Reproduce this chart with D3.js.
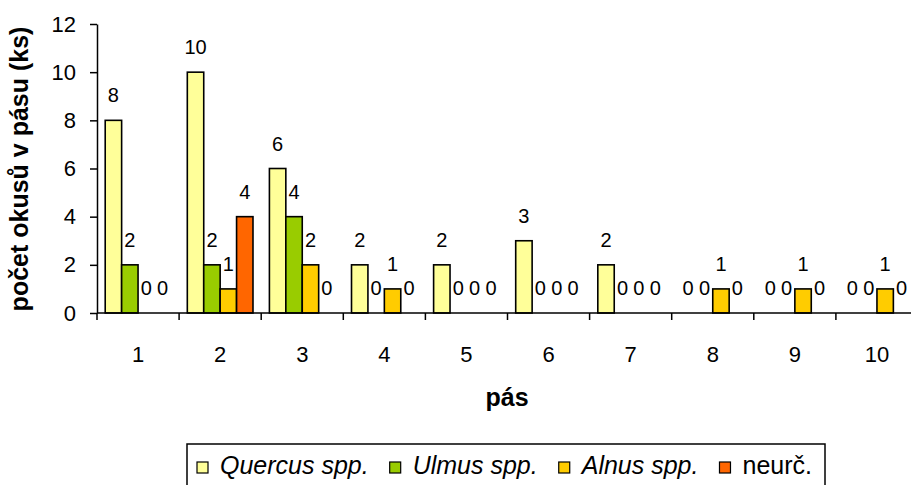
<!DOCTYPE html>
<html>
<head>
<meta charset="utf-8">
<script src="https://cdn.jsdelivr.net/npm/d3@7"></script>
<style>
  html, body { margin: 0; padding: 0; background: #fff; }
  svg { display: block; font-family: "Liberation Sans", Arial, sans-serif; }
</style>
</head>
<body>
<svg id="chart" width="911" height="485"></svg>
<script>
// Belts (pás) along the x axis
const belts = ["1", "2", "3", "4", "5", "6", "7", "8", "9", "10"];

// Browsing counts per belt for each group
const quercus = [8, 10, 6, 2, 2, 3, 2, 0, 0, 0];
const ulmus   = [2, 2, 4, 0, 0, 0, 0, 0, 0, 0];
const alnus   = [0, 1, 2, 1, 0, 0, 0, 1, 1, 1];
const neurc   = [0, 4, 0, 0, 0, 0, 0, 0, 0, 0];

const seriesNames  = ["Quercus spp.", "Ulmus spp.", "Alnus spp.", "neurč."];
const seriesItalic = [true, true, true, false];
const seriesColors = ["#FFFF99", "#99CC00", "#FFCC00", "#FF6600"];
const seriesValues = [quercus, ulmus, alnus, neurc];

const yTicks = [0, 2, 4, 6, 8, 10, 12];

const svg = d3.select("#chart");

const plot = { left: 97, right: 918, top: 24, bottom: 313 };

const x = d3.scaleBand().domain(belts).range([plot.left, plot.right]).padding(0);
const xInner = d3.scaleBand()
  .domain(d3.range(seriesNames.length))
  .range([x.bandwidth() * 0.1, x.bandwidth() * 0.9])
  .padding(0);
const y = d3.scaleLinear().domain([0, 12]).range([plot.bottom, plot.top]);

// Bars (zero values draw no bar)
seriesValues.forEach((vals, si) => {
  svg.append("g")
    .selectAll("rect")
    .data(vals.map((v, bi) => ({ v, belt: belts[bi] })).filter(d => d.v > 0))
    .join("rect")
    .attr("x", d => x(d.belt) + xInner(si))
    .attr("y", d => y(d.v))
    .attr("width", xInner.bandwidth())
    .attr("height", d => y(0) - y(d.v))
    .attr("fill", seriesColors[si])
    .attr("stroke", "#000")
    .attr("stroke-width", 1.6);
});

// Value labels above each bar
const labels = svg.append("g")
  .attr("font-size", 20)
  .attr("text-anchor", "middle")
  .attr("fill", "#000");

seriesValues.forEach((vals, si) => {
  labels.selectAll(null)
    .data(vals.map((v, bi) => ({ v, belt: belts[bi] })))
    .join("text")
    .attr("x", d => x(d.belt) + xInner(si) + xInner.bandwidth() / 2)
    .attr("y", d => y(d.v) - 18)
    .text(d => d.v);
});

// Y axis
const yAxis = svg.append("g")
  .attr("transform", `translate(${plot.left},0)`)
  .call(d3.axisLeft(y).tickValues(yTicks).tickSize(7).tickSizeOuter(0).tickPadding(14));
yAxis.select(".domain").attr("stroke", "#000").attr("stroke-width", 1.5);
yAxis.selectAll(".tick line").attr("stroke", "#000").attr("stroke-width", 1.5);
yAxis.selectAll(".tick text").attr("font-size", 22).attr("fill", "#000")
  .attr("font-family", "'Liberation Sans', Arial, sans-serif");

// X axis: baseline with ticks at band boundaries
const xAxisG = svg.append("g");
xAxisG.append("line")
  .attr("x1", plot.left).attr("x2", plot.right)
  .attr("y1", y(0)).attr("y2", y(0))
  .attr("stroke", "#000").attr("stroke-width", 1.5);
xAxisG.selectAll("line.tk")
  .data(belts)
  .join("line")
  .attr("class", "tk")
  .attr("x1", d => x(d)).attr("x2", d => x(d))
  .attr("y1", y(0)).attr("y2", y(0) + 7)
  .attr("stroke", "#000").attr("stroke-width", 1.5);
xAxisG.selectAll("text")
  .data(belts)
  .join("text")
  .attr("x", d => x(d) + x.bandwidth() / 2)
  .attr("y", 362)
  .attr("text-anchor", "middle")
  .attr("font-size", 22)
  .text(d => d);

// Axis titles
svg.append("text")
  .attr("x", 507).attr("y", 406)
  .attr("text-anchor", "middle")
  .attr("font-size", 25).attr("font-weight", "bold")
  .text("pás");

svg.append("text")
  .attr("transform", "translate(28,169) rotate(-90)")
  .attr("text-anchor", "middle")
  .attr("font-size", 25).attr("font-weight", "bold")
  .text("počet okusů v pásu (ks)");

// Legend
const legend = svg.append("g");
legend.append("rect")
  .attr("x", 187).attr("y", 444).attr("width", 638).attr("height", 60)
  .attr("fill", "#fff").attr("stroke", "#000").attr("stroke-width", 1.5);

const items = legend.selectAll("g.item")
  .data(seriesNames.map((n, i) => ({ n, i })))
  .join("g").attr("class", "item");
items.append("rect")
  .attr("y", -12)
  .attr("width", 11).attr("height", 11)
  .attr("fill", d => seriesColors[d.i])
  .attr("stroke", "#000").attr("stroke-width", 1.2);
items.append("text")
  .attr("x", 23).attr("y", 0)
  .attr("font-size", 25)
  .attr("font-style", d => seriesItalic[d.i] ? "italic" : "normal")
  .text(d => d.n);

// Lay the legend entries out in a row
const widths = [];
items.each(function () { widths.push(this.getBBox().width); });
const gap = 21;
let cx = 197;
items.attr("transform", (d, i) => {
  const t = `translate(${cx},474)`;
  cx += widths[i] + gap;
  return t;
});
</script>
</body>
</html>
